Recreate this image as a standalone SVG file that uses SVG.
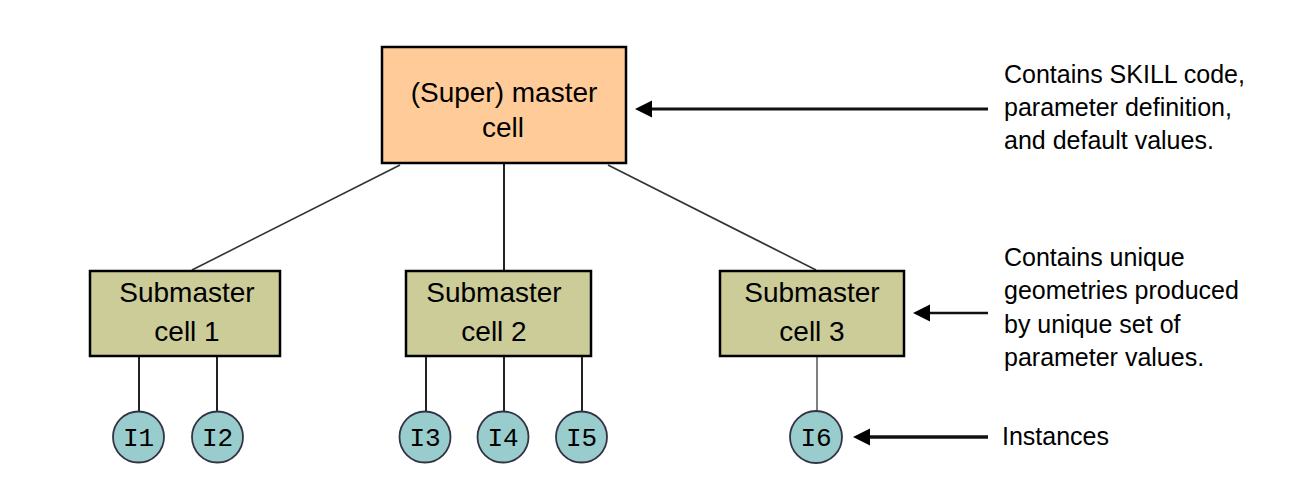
<svg xmlns="http://www.w3.org/2000/svg" width="1306" height="495" viewBox="0 0 1306 495">
<style>
.box{stroke:#000;stroke-width:2.5}
.master{fill:#FFCC99}
.sub{fill:#CCCC99}
.inst{fill:#99CCCC;stroke:#333344;stroke-width:1.8}
.t{font-family:"Liberation Sans",Arial,sans-serif;font-size:28px;fill:#000;text-anchor:middle}
.note{font-family:"Liberation Sans",Arial,sans-serif;font-size:25px;fill:#000}
.it{font-family:"Liberation Mono","Courier New",monospace;font-size:26px;fill:#000;text-anchor:middle}
.c{stroke:#333;stroke-width:1.6;fill:none}
.v{stroke:#222;stroke-width:2;fill:none}
.a{stroke:#111;fill:none}
</style>
<defs>
<marker id="ah" markerUnits="userSpaceOnUse" markerWidth="18" markerHeight="18" refX="7" refY="8.5" orient="auto">
<path d="M0,0 L17,8.5 L0,17 Z" fill="#000"/>
</marker>
</defs>
<rect width="1306" height="495" fill="#fff"/>
<g id="connectors">
<line class="c" x1="400" y1="165" x2="192" y2="270"/>
<line class="v" x1="504" y1="164" x2="504" y2="271"/>
<line class="c" x1="608" y1="165" x2="816" y2="270"/>
<line class="v" x1="139" y1="357" x2="139" y2="412"/>
<line class="v" x1="217" y1="357" x2="217" y2="412"/>
<line class="v" x1="426" y1="357" x2="426" y2="412"/>
<line class="v" x1="504" y1="357" x2="504" y2="412"/>
<line class="v" x1="582" y1="357" x2="582" y2="412"/>
<line class="v" x1="817" y1="357" x2="817" y2="411" style="stroke:#555;stroke-width:1.5"/>
<line class="a" x1="988" y1="109" x2="645" y2="109" stroke-width="3" marker-end="url(#ah)"/>
<line class="a" x1="988" y1="313" x2="923" y2="313" stroke-width="2.5" marker-end="url(#ah)"/>
<line class="a" x1="988" y1="437" x2="863" y2="437" stroke-width="3.5" marker-end="url(#ah)"/>
</g>
<g id="master">
<rect class="box master" x="382" y="47" width="244" height="116"/>
<text class="t" x="504" y="102">(Super) master</text>
<text class="t" x="503" y="137">cell</text>
</g>
<g id="sub1">
<rect class="box sub" x="90" y="271" width="190" height="85"/>
<text class="t" x="187" y="302">Submaster</text>
<text class="t" x="187" y="341">cell 1</text>
</g>
<g id="sub2">
<rect class="box sub" x="406" y="271" width="185" height="85"/>
<text class="t" x="494" y="302">Submaster</text>
<text class="t" x="494" y="341">cell 2</text>
</g>
<g id="sub3">
<rect class="box sub" x="720" y="271" width="184" height="85"/>
<text class="t" x="812" y="302">Submaster</text>
<text class="t" x="812" y="341">cell 3</text>
</g>
<g id="i1"><circle class="inst" cx="138.5" cy="437" r="25.5"/><text class="it" x="138.5" y="446">I1</text></g>
<g id="i2"><circle class="inst" cx="217.5" cy="437" r="25.5"/><text class="it" x="217.5" y="446">I2</text></g>
<g id="i3"><circle class="inst" cx="425" cy="437" r="25.5"/><text class="it" x="425" y="446">I3</text></g>
<g id="i4"><circle class="inst" cx="503" cy="437" r="25.5"/><text class="it" x="503" y="446">I4</text></g>
<g id="i5"><circle class="inst" cx="581.5" cy="437" r="25.5"/><text class="it" x="581.5" y="446">I5</text></g>
<g id="i6"><circle class="inst" cx="816" cy="437" r="26"/><text class="it" x="816" y="446">I6</text></g>
<g id="note1">
<text class="note" x="1004" y="83">Contains SKILL code,</text>
<text class="note" x="1004" y="116">parameter definition,</text>
<text class="note" x="1004" y="149">and default values.</text>
</g>
<g id="note2">
<text class="note" x="1004" y="266">Contains unique</text>
<text class="note" x="1004" y="299">geometries produced</text>
<text class="note" x="1004" y="333">by unique set of</text>
<text class="note" x="1004" y="366">parameter values.</text>
</g>
<g id="note3">
<text class="note" x="1002" y="445">Instances</text>
</g>
</svg>
